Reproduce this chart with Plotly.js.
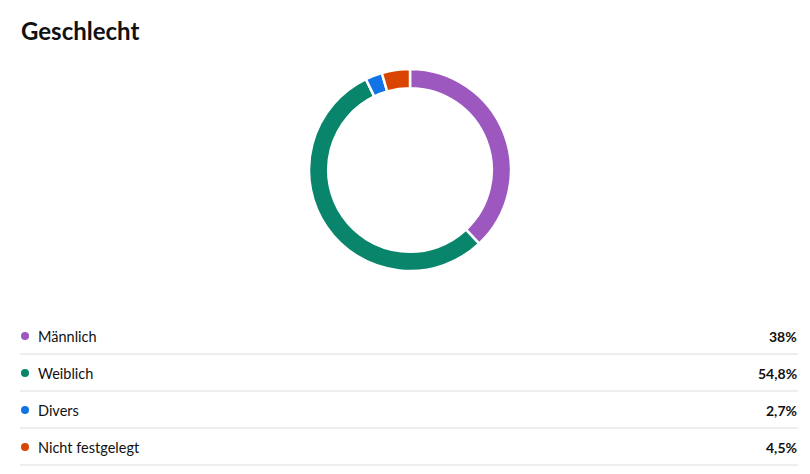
<!DOCTYPE html>
<html>
<head>
<meta charset="utf-8">
<script src="https://cdn.plot.ly/plotly-3.0.1.min.js"></script>
<style>html,body{margin:0;padding:0;background:#fff;}#chart{width:810px;height:474px;}</style>
</head>
<body>
<div id="chart"></div>
<script>
const categories = ["Männlich", "Weiblich", "Divers", "Nicht festgelegt"];
const shares = [38, 54.8, 2.7, 4.5];
const valueLabels = ["38%", "54,8%", "2,7%", "4,5%"];
const colors = ["#9C58BF", "#08856A", "#1273E6", "#D94400"];

const W = 810, H = 474;
const px = x => x / W;
const py = y => 1 - y / H;

const rowY0 = 336, rowStep = 37;
const annotations = [{
  text: "<b>Geschlecht</b>", xref: "paper", yref: "paper",
  x: px(19), y: py(31), xanchor: "left", yanchor: "middle", showarrow: false,
  font: {family: "Lato, 'Open Sans', sans-serif", size: 24, color: "#111"}
}];
const shapes = [];
categories.forEach((c, i) => {
  const y = rowY0 + i * rowStep;
  annotations.push({
    text: c, xref: "paper", yref: "paper", x: px(36), y: py(y),
    xanchor: "left", yanchor: "middle", showarrow: false,
    font: {family: "Lato, 'Open Sans', sans-serif", size: 14.5, color: "#111"}
  });
  annotations.push({
    text: "<b>" + valueLabels[i] + "</b>", xref: "paper", yref: "paper", x: px(799), y: py(y),
    xanchor: "right", yanchor: "middle", showarrow: false,
    font: {family: "Lato, 'Open Sans', sans-serif", size: 14, color: "#111"}
  });
  shapes.push({type: "circle", xref: "paper", yref: "paper",
    x0: px(21), x1: px(29), y0: py(y - 4), y1: py(y + 4),
    fillcolor: colors[i], line: {width: 0}});
  shapes.push({type: "line", xref: "paper", yref: "paper",
    x0: px(20), x1: px(798), y0: py(y + 18), y1: py(y + 18),
    line: {color: "#dddddd", width: 1}});
});

const data = [{
  type: "pie", labels: categories, values: shares, hole: 0.81,
  sort: false, direction: "clockwise", rotation: 0,
  marker: {colors: colors, line: {color: "#fff", width: 2.5}},
  textinfo: "none", hoverinfo: "label+percent",
  domain: {x: [px(309), px(511)], y: [py(271), py(69)]}
}];

const layout = {
  width: W, height: H, margin: {l: 0, r: 0, t: 0, b: 0},
  paper_bgcolor: "#fff", plot_bgcolor: "#fff", showlegend: false,
  annotations: annotations, shapes: shapes
};
Plotly.newPlot("chart", data, layout, {displayModeBar: false, staticPlot: true});
</script>
</body>
</html>
